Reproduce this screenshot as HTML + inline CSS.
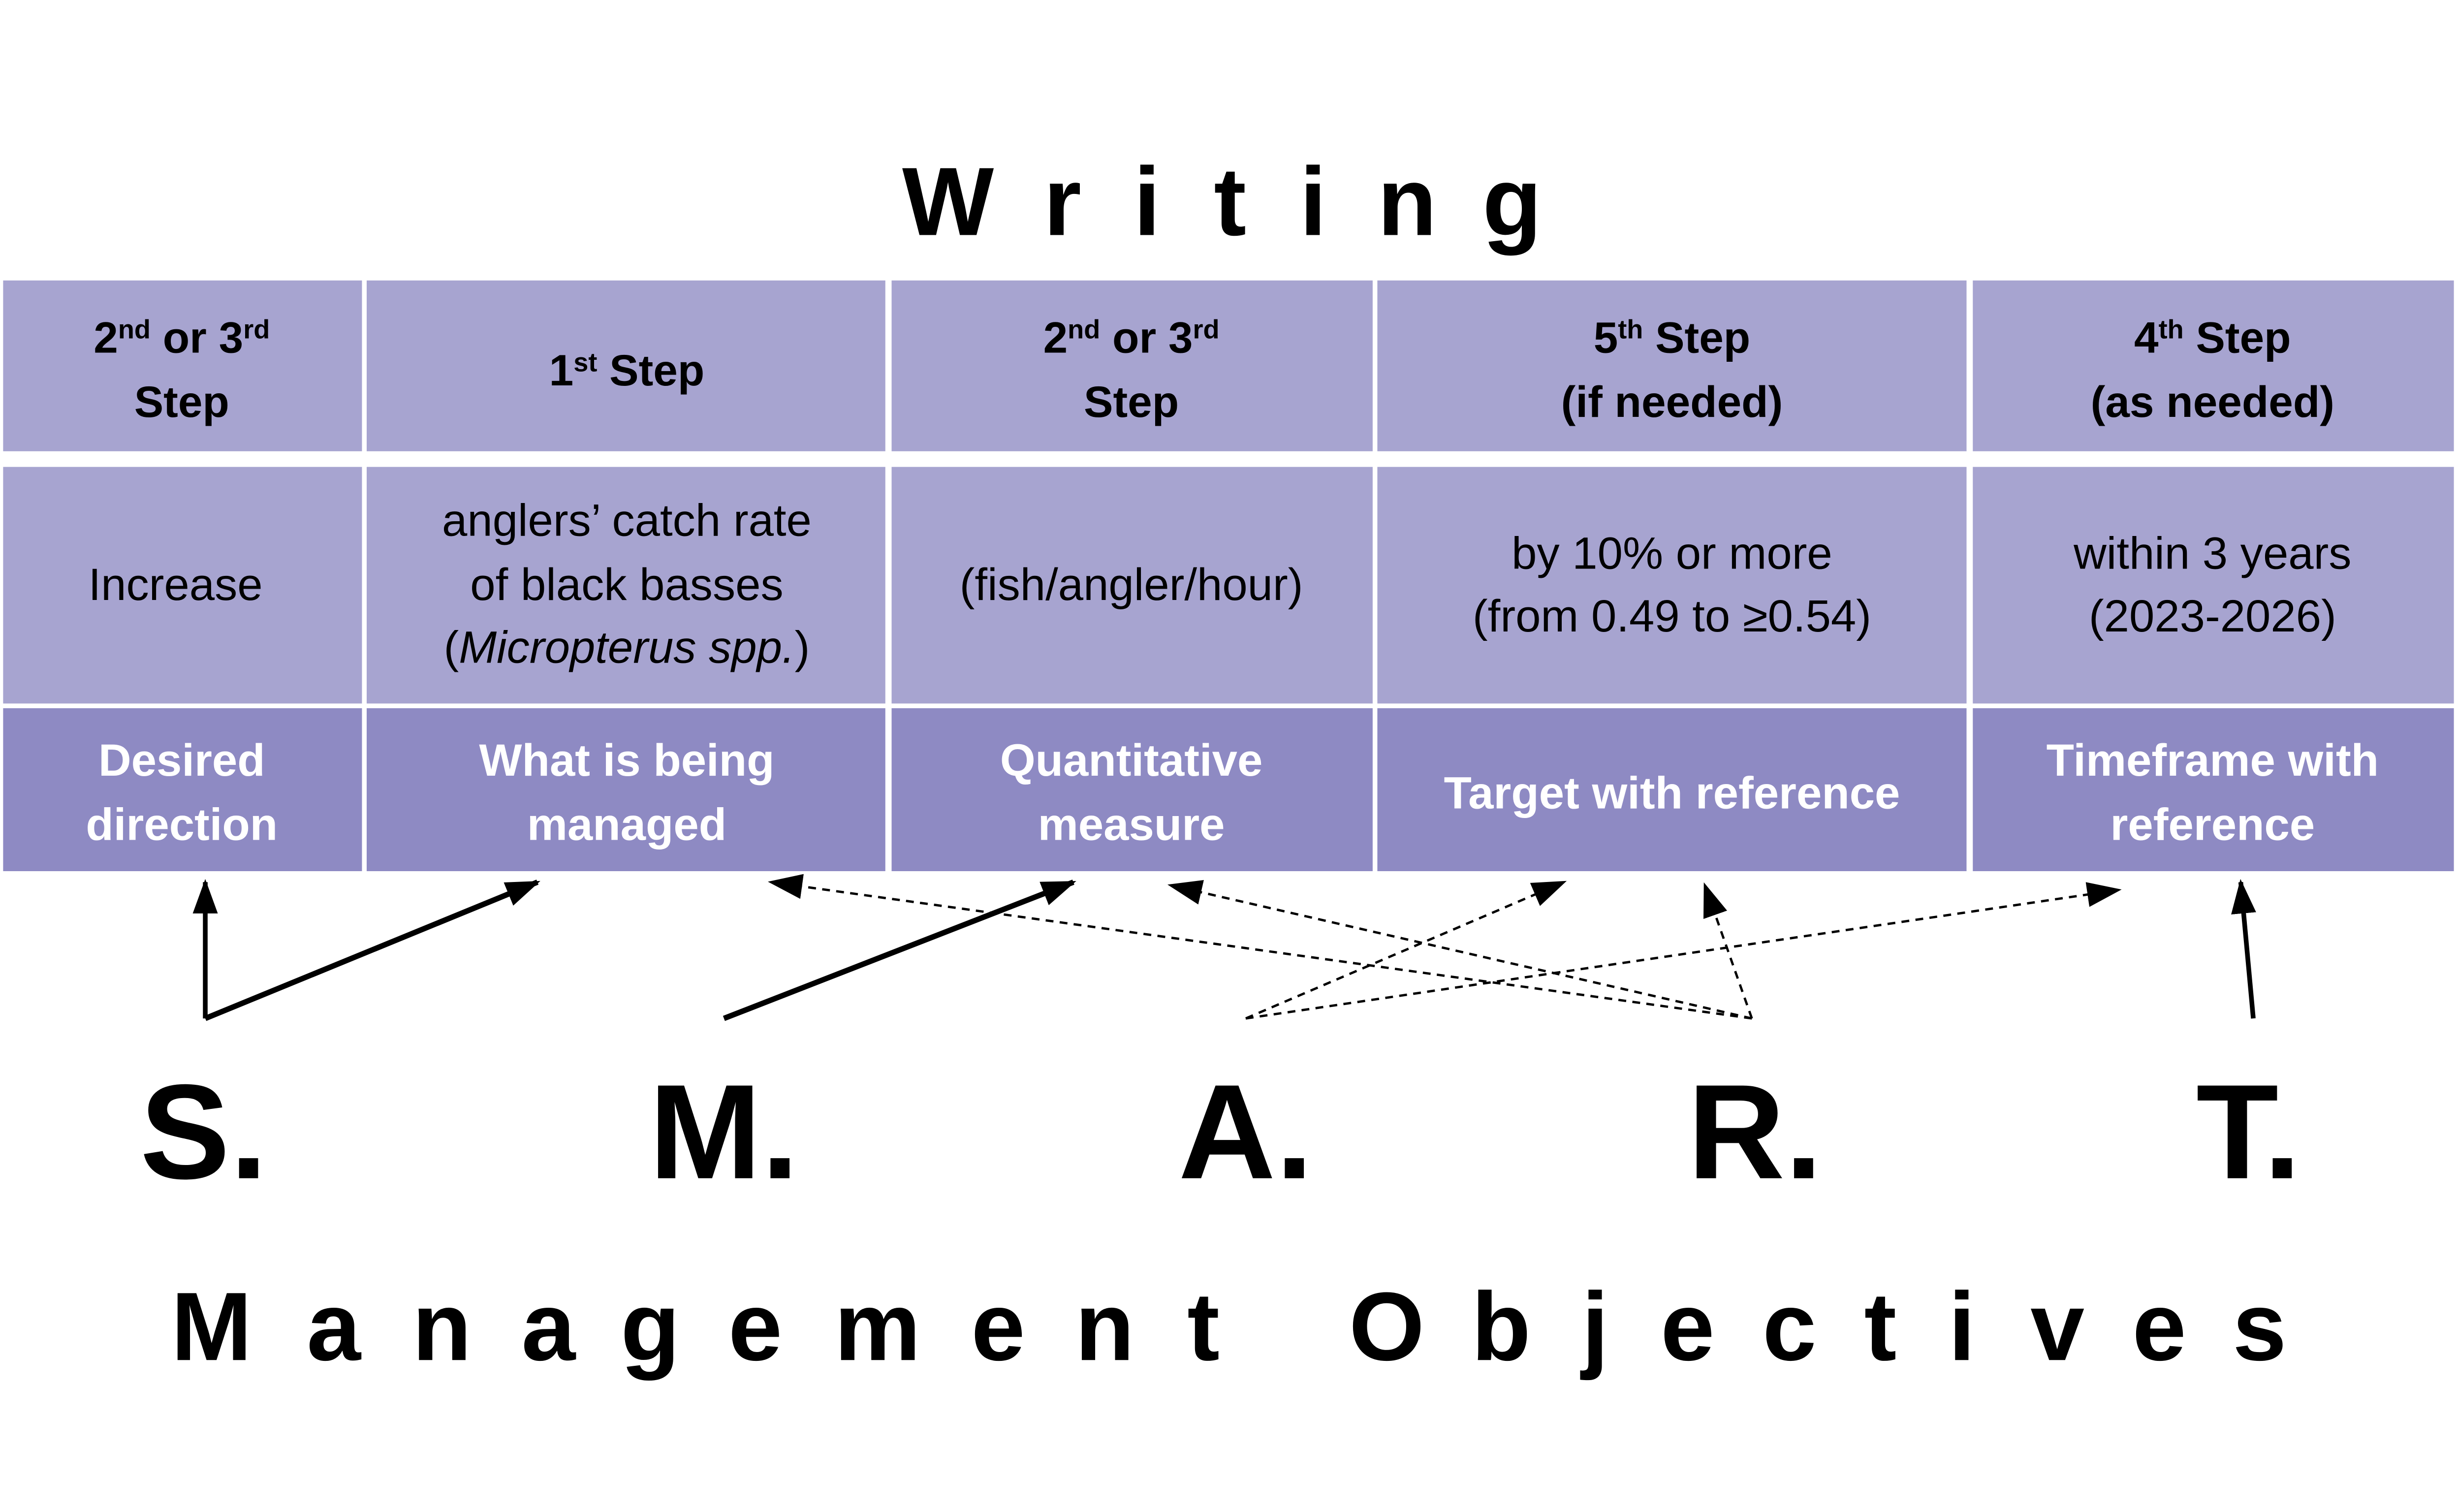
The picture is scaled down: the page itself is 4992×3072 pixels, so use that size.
<!DOCTYPE html>
<html><head><meta charset="utf-8"><style>html,body{margin:0;padding:0;background:#fff}svg{display:block}</style></head>
<body>
<svg width="4992" height="3072" viewBox="0 0 1568 965" preserveAspectRatio="none" xmlns="http://www.w3.org/2000/svg" font-family="Liberation Sans, sans-serif">
<defs>
<marker id="ahb" markerWidth="22" markerHeight="16" refX="20" refY="8" orient="auto" markerUnits="userSpaceOnUse"><path d="M0,0 L22,8 L0,16 Z" fill="#000"/></marker>
</defs>
<rect width="1568" height="965" fill="#fff"/>
<g font-size="62" font-weight="bold" text-anchor="middle" fill="#000">
<text x="605" y="150">W</text><text x="678" y="150">r</text><text x="732" y="150">i</text><text x="785" y="150">t</text><text x="838" y="150">i</text><text x="898" y="150">n</text><text x="965" y="150">g</text>
</g>
<g fill="#a7a4d0">
<rect x="2" y="179" width="229" height="109"/><rect x="234" y="179" width="331" height="109"/><rect x="569" y="179" width="307" height="109"/><rect x="879" y="179" width="376" height="109"/><rect x="1259" y="179" width="307" height="109"/>
<rect x="2" y="298" width="229" height="151"/><rect x="234" y="298" width="331" height="151"/><rect x="569" y="298" width="307" height="151"/><rect x="879" y="298" width="376" height="151"/><rect x="1259" y="298" width="307" height="151"/>
</g>
<g fill="#8e8ac3">
<rect x="2" y="452" width="229" height="104"/><rect x="234" y="452" width="331" height="104"/><rect x="569" y="452" width="307" height="104"/><rect x="879" y="452" width="376" height="104"/><rect x="1259" y="452" width="307" height="104"/>
</g>
<g font-size="28" font-weight="bold" text-anchor="middle" fill="#000">
<text x="116" y="225">2<tspan font-size="17" dy="-9">nd</tspan><tspan dy="9"> or 3</tspan><tspan font-size="17" dy="-9">rd</tspan></text>
<text x="116" y="266">Step</text>
<text x="400" y="246">1<tspan font-size="17" dy="-9">st</tspan><tspan dy="9"> Step</tspan></text>
<text x="722" y="225">2<tspan font-size="17" dy="-9">nd</tspan><tspan dy="9"> or 3</tspan><tspan font-size="17" dy="-9">rd</tspan></text>
<text x="722" y="266">Step</text>
<text x="1067" y="225">5<tspan font-size="17" dy="-9">th</tspan><tspan dy="9"> Step</tspan></text>
<text x="1067" y="266">(if needed)</text>
<text x="1412" y="225">4<tspan font-size="17" dy="-9">th</tspan><tspan dy="9"> Step</tspan></text>
<text x="1412" y="266">(as needed)</text>
</g>
<g font-size="29" text-anchor="middle" fill="#000">
<text x="112" y="383">Increase</text>
<text x="400" y="342">anglers’ catch rate</text>
<text x="400" y="383">of black basses</text>
<text x="400" y="423">(<tspan font-style="italic">Micropterus spp.</tspan>)</text>
<text x="722" y="383">(fish/angler/hour)</text>
<text x="1067" y="363">by 10% or more</text>
<text x="1067" y="403">(from 0.49 to ≥0.54)</text>
<text x="1412" y="363">within 3 years</text>
<text x="1412" y="403">(2023-2026)</text>
</g>
<g font-size="29" font-weight="bold" text-anchor="middle" fill="#fff">
<text x="116" y="495">Desired</text><text x="116" y="536">direction</text>
<text x="400" y="495">What is being</text><text x="400" y="536">managed</text>
<text x="722" y="495">Quantitative</text><text x="722" y="536">measure</text>
<text x="1067" y="516">Target with reference</text>
<text x="1412" y="495">Timeframe with</text><text x="1412" y="536">reference</text>
</g>
<g stroke="#000" fill="none">
<line x1="131" y1="650" x2="131" y2="563" stroke-width="3" marker-end="url(#ahb)"/>
<line x1="131" y1="650" x2="343" y2="563" stroke-width="3.5" marker-end="url(#ahb)"/>
<line x1="462" y1="650" x2="685" y2="563" stroke-width="3.5" marker-end="url(#ahb)"/>
<line x1="1438" y1="650" x2="1430" y2="563" stroke-width="3" marker-end="url(#ahb)"/>
<g stroke-width="1.5" stroke-dasharray="5,4">
<line x1="795" y1="650" x2="998" y2="563" marker-end="url(#ahb)"/>
<line x1="795" y1="650" x2="1352" y2="568" marker-end="url(#ahb)"/>
<line x1="1118" y1="650" x2="492" y2="563" marker-end="url(#ahb)"/>
<line x1="1118" y1="650" x2="747" y2="565" marker-end="url(#ahb)"/>
<line x1="1118" y1="650" x2="1088" y2="565" marker-end="url(#ahb)"/>
</g>
</g>
<g font-size="86" font-weight="bold" text-anchor="middle" fill="#000">
<text x="130" y="752">S.</text><text x="462" y="752">M.</text><text x="795" y="752">A.</text><text x="1120" y="752">R.</text><text x="1435" y="752">T.</text>
</g>
<g font-size="62" font-weight="bold" text-anchor="middle" fill="#000">
<text x="135" y="868">M</text><text x="213" y="868">a</text><text x="282" y="868">n</text><text x="350" y="868">a</text><text x="415" y="868">g</text><text x="482" y="868">e</text><text x="560" y="868">m</text><text x="637" y="868">e</text><text x="705" y="868">n</text><text x="768" y="868">t</text>
<text x="885" y="868">O</text><text x="958" y="868">b</text><text x="1018" y="868">j</text><text x="1077" y="868">e</text><text x="1142" y="868">c</text><text x="1200" y="868">t</text><text x="1252" y="868">i</text><text x="1313" y="868">v</text><text x="1378" y="868">e</text><text x="1442" y="868">s</text>
</g>
</svg>
</body></html>
